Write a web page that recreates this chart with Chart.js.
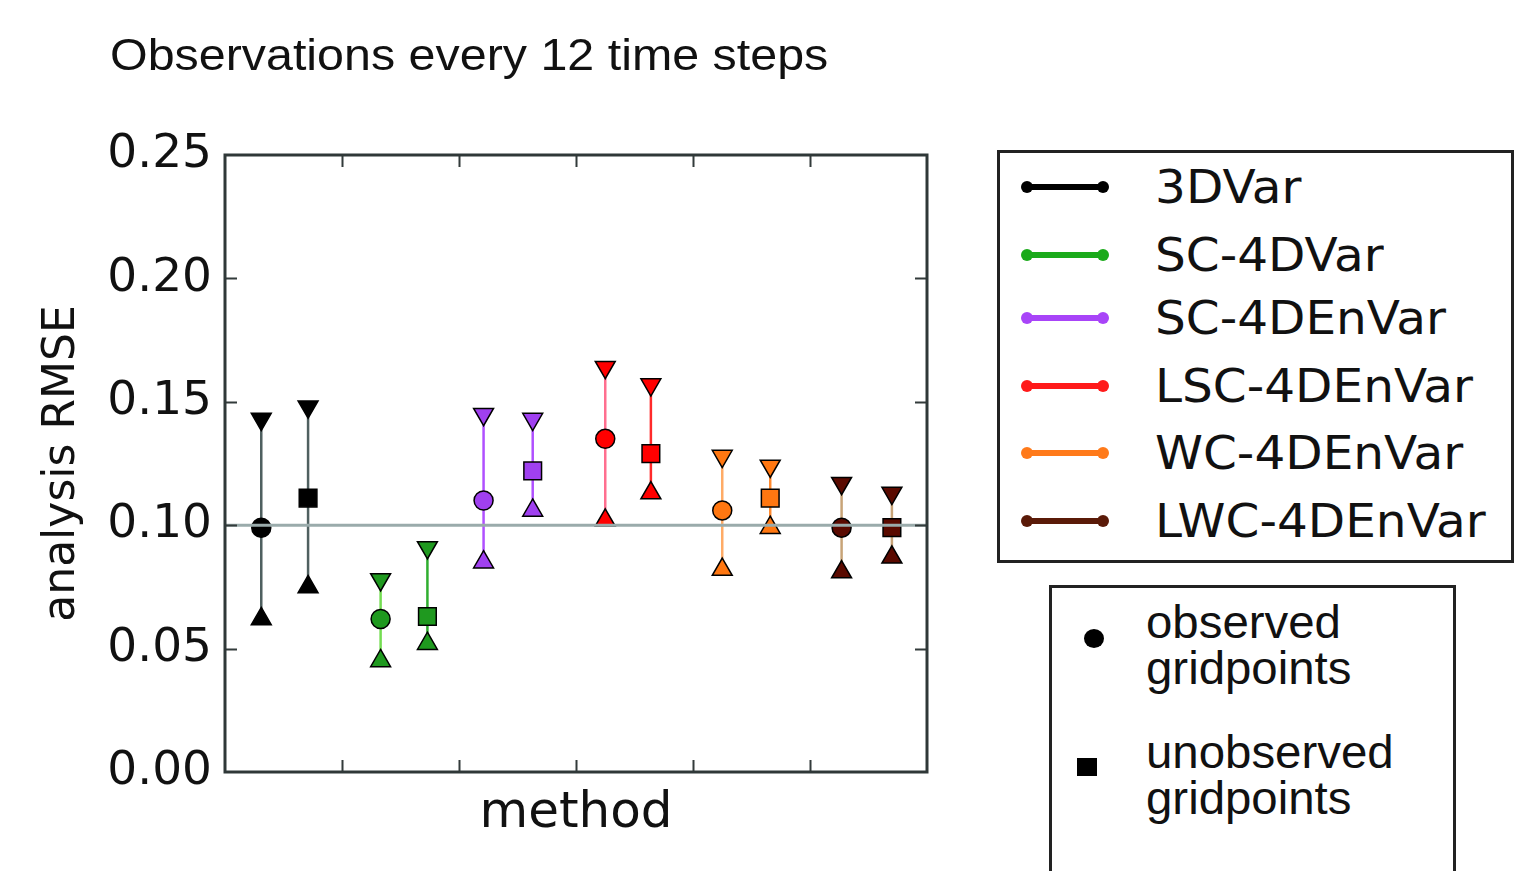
<!DOCTYPE html>
<html>
<head>
<meta charset="utf-8">
<script src="https://cdn.jsdelivr.net/npm/chart.js@4.4.1/dist/chart.umd.min.js"></script>
<style>
  html, body { margin: 0; padding: 0; background: #fff; }
  #wrap { position: relative; width: 1519px; height: 871px; overflow: hidden; }
  #chart { position: absolute; left: 0; top: 0; }
  .title {
    position: absolute; left: 110px; top: 33px;
    font-family: "Liberation Sans", Arial, sans-serif; font-size: 44px; line-height: 44px;
    transform-origin: left top; transform: scaleX(1.1);
    white-space: nowrap; color: #111;
  }
  .box { position: absolute; border: 3px solid #222; background: #fff; box-sizing: border-box; }
  .swatch { position: absolute; left: 1025px; width: 80px; height: 6px; border-radius: 3px; }
  .swatch::before, .swatch::after {
    content: ""; position: absolute; top: -3px; width: 12px; height: 12px;
    border-radius: 50%; background: inherit;
  }
  .swatch::before { left: -4px; }
  .swatch::after { right: -4px; }
  .methodLabel {
    position: absolute; left: 1155px;
    font-family: "DejaVu Sans", sans-serif; font-size: 46px; line-height: 60px;
    transform-origin: left center; transform: scaleX(1.055);
    color: #111; white-space: nowrap;
  }
  .gridLabel {
    position: absolute; left: 1146px;
    font-family: "Liberation Sans", Arial, sans-serif; font-size: 46px; line-height: 46px;
    transform-origin: left top; transform: scaleX(1.03);
    color: #111; white-space: nowrap;
  }
</style>
</head>
<body>
<div id="wrap">
  <canvas id="chart" width="1519" height="871"></canvas>
  <div class="title">Observations every 12 time steps</div>
  <div class="box" style="left:997px; top:150px; width:517px; height:413px;"></div>
  <div id="methodLegend"></div>
  <div class="box" style="left:1049px; top:585px; width:407px; height:320px;"></div>
  <div id="gridLegend"></div>
</div>
<script>
// Data
const methods = ["3DVar", "SC-4DVar", "SC-4DEnVar", "LSC-4DEnVar", "WC-4DEnVar", "LWC-4DEnVar"];
const xObserved = [0.31, 1.33, 2.21, 3.25, 4.25, 5.27];
const xUnobserved = [0.71, 1.73, 2.63, 3.64, 4.66, 5.70];
const rmseObserved = [0.099, 0.062, 0.110, 0.135, 0.106, 0.099];
const lowObserved = [0.062, 0.045, 0.085, 0.102, 0.082, 0.081];
const highObserved = [0.143, 0.078, 0.145, 0.164, 0.128, 0.117];
const rmseUnobserved = [0.111, 0.063, 0.122, 0.129, 0.111, 0.099];
const lowUnobserved = [0.075, 0.052, 0.106, 0.113, 0.099, 0.087];
const highUnobserved = [0.148, 0.091, 0.143, 0.157, 0.124, 0.113];
const referenceRmse = 0.10;
const yTicks = [0, 0.05, 0.10, 0.15, 0.20, 0.25];
const xTicks = [1, 2, 3, 4, 5];
const gridpointLabels = [["observed", "gridpoints"], ["unobserved", "gridpoints"]];

// Styles
const markerColors = ["#000000", "#1f991f", "#a040f0", "#ff0000", "#ff7711", "#5a0a00"];
const obsLineColors = ["#4f6060", "#74dd52", "#b050ff", "#ff6f8f", "#ffab66", "#c8a478"];
const unobsLineColors = ["#4f6060", "#2fae2f", "#b050ff", "#ff2a2a", "#ff8a30", "#c8a478"];
const legendColors = ["#000000", "#1aaa1a", "#a844f8", "#ff1a1a", "#ff7a1a", "#5a1a08"];
const legendRowY = [187, 255, 318, 386, 453, 521];

const datasets = [];

// horizontal reference line at 0.10 (drawn on top)
datasets.push({
  type: "line",
  data: [{ x: 0, y: referenceRmse }, { x: 6, y: referenceRmse }],
  borderColor: "#9aabab",
  borderWidth: 3,
  pointRadius: 0,
  order: 0
});

function addErrorBar(x, mean, low, high, lineColor, fillColor, centerStyle) {
  datasets.push({
    type: "line",
    data: [{ x: x, y: low }, { x: x, y: high }],
    borderColor: lineColor,
    borderWidth: 2.5,
    pointRadius: 0,
    order: 2
  });
  datasets.push({
    type: "scatter",
    data: [{ x: x, y: mean }, { x: x, y: high }, { x: x, y: low }],
    pointStyle: [centerStyle, "triangle", "triangle"],
    rotation: [0, 180, 0],
    pointRadius: [centerStyle === "rect" ? 12.5 : 9.5, 11.5, 11.5],
    backgroundColor: fillColor,
    borderColor: "#000000",
    borderWidth: 1.5,
    order: 1
  });
}

methods.forEach((m, i) => {
  addErrorBar(xObserved[i], rmseObserved[i], lowObserved[i], highObserved[i], obsLineColors[i], markerColors[i], "circle");
  addErrorBar(xUnobserved[i], rmseUnobserved[i], lowUnobserved[i], highUnobserved[i], unobsLineColors[i], markerColors[i], "rect");
});

// frame and inward ticks like matplotlib
const frameTicks = {
  id: "frameTicks",
  afterDraw(chart) {
    const { ctx, chartArea: a, scales } = chart;
    ctx.save();
    ctx.strokeStyle = "#333b3b";
    ctx.lineWidth = 2;
    ctx.beginPath();
    yTicks.forEach(v => {
      if (v <= 0 || v >= 0.25) return;
      const py = Math.round(scales.y.getPixelForValue(v)) + 0.5;
      ctx.moveTo(a.left, py); ctx.lineTo(a.left + 12, py);
      ctx.moveTo(a.right, py); ctx.lineTo(a.right - 12, py);
    });
    xTicks.forEach(v => {
      const px = Math.round(scales.x.getPixelForValue(v)) + 0.5;
      ctx.moveTo(px, a.bottom); ctx.lineTo(px, a.bottom - 12);
      ctx.moveTo(px, a.top); ctx.lineTo(px, a.top + 12);
    });
    ctx.stroke();
    ctx.lineWidth = 3;
    ctx.strokeStyle = "#2f3838";
    ctx.strokeRect(a.left, a.top, a.right - a.left, a.bottom - a.top);
    ctx.restore();
  }
};

new Chart(document.getElementById("chart"), {
  type: "scatter",
  data: { datasets: datasets },
  options: {
    responsive: false,
    animation: false,
    events: [],
    layout: { padding: { top: 155, right: 592, bottom: 0, left: 0 } },
    plugins: { legend: { display: false }, tooltip: { enabled: false } },
    scales: {
      x: {
        type: "linear",
        min: 0,
        max: 6,
        afterFit: s => { s.height = 99; },
        ticks: { display: false },
        grid: { display: false, drawTicks: false },
        border: { display: false },
        title: {
          display: true,
          text: "method",
          color: "#111",
          font: { family: "DejaVu Sans", size: 50 },
          padding: { top: 0, bottom: 27 }
        }
      },
      y: {
        min: 0,
        max: 0.25,
        afterFit: s => { s.width = 225; },
        afterBuildTicks: s => { s.ticks = yTicks.map(v => ({ value: v })); },
        ticks: {
          autoSkip: false,
          padding: 13,
          color: "#111",
          font: { family: "DejaVu Sans", size: 47 },
          callback: v => v.toFixed(2)
        },
        grid: { display: false, drawTicks: false },
        border: { display: false },
        title: {
          display: true,
          text: "analysis RMSE",
          color: "#111",
          font: { family: "DejaVu Sans", size: 44 },
          padding: { top: 36, bottom: 0 }
        }
      }
    }
  },
  plugins: [frameTicks]
});

// method legend
const methodLegend = document.getElementById("methodLegend");
methods.forEach((m, i) => {
  const sw = document.createElement("div");
  sw.className = "swatch";
  sw.style.top = (legendRowY[i] - 3) + "px";
  sw.style.background = legendColors[i];
  methodLegend.appendChild(sw);
  const lab = document.createElement("div");
  lab.className = "methodLabel";
  lab.style.top = (legendRowY[i] - 30) + "px";
  lab.textContent = m;
  methodLegend.appendChild(lab);
});

// gridpoint legend
const gridLegend = document.getElementById("gridLegend");
const gridMarkerStyles = [
  "left:1084px; top:629px; width:20px; height:19px; border-radius:50%;",
  "left:1077px; top:758px; width:20px; height:18px;"
];
const gridTextTop = [599, 729];
gridpointLabels.forEach((lines, i) => {
  const mk = document.createElement("div");
  mk.style.cssText = "position:absolute; background:#000;" + gridMarkerStyles[i];
  gridLegend.appendChild(mk);
  const t = document.createElement("div");
  t.className = "gridLabel";
  t.style.top = gridTextTop[i] + "px";
  t.innerHTML = lines.join("<br>");
  gridLegend.appendChild(t);
});
</script>
</body>
</html>
